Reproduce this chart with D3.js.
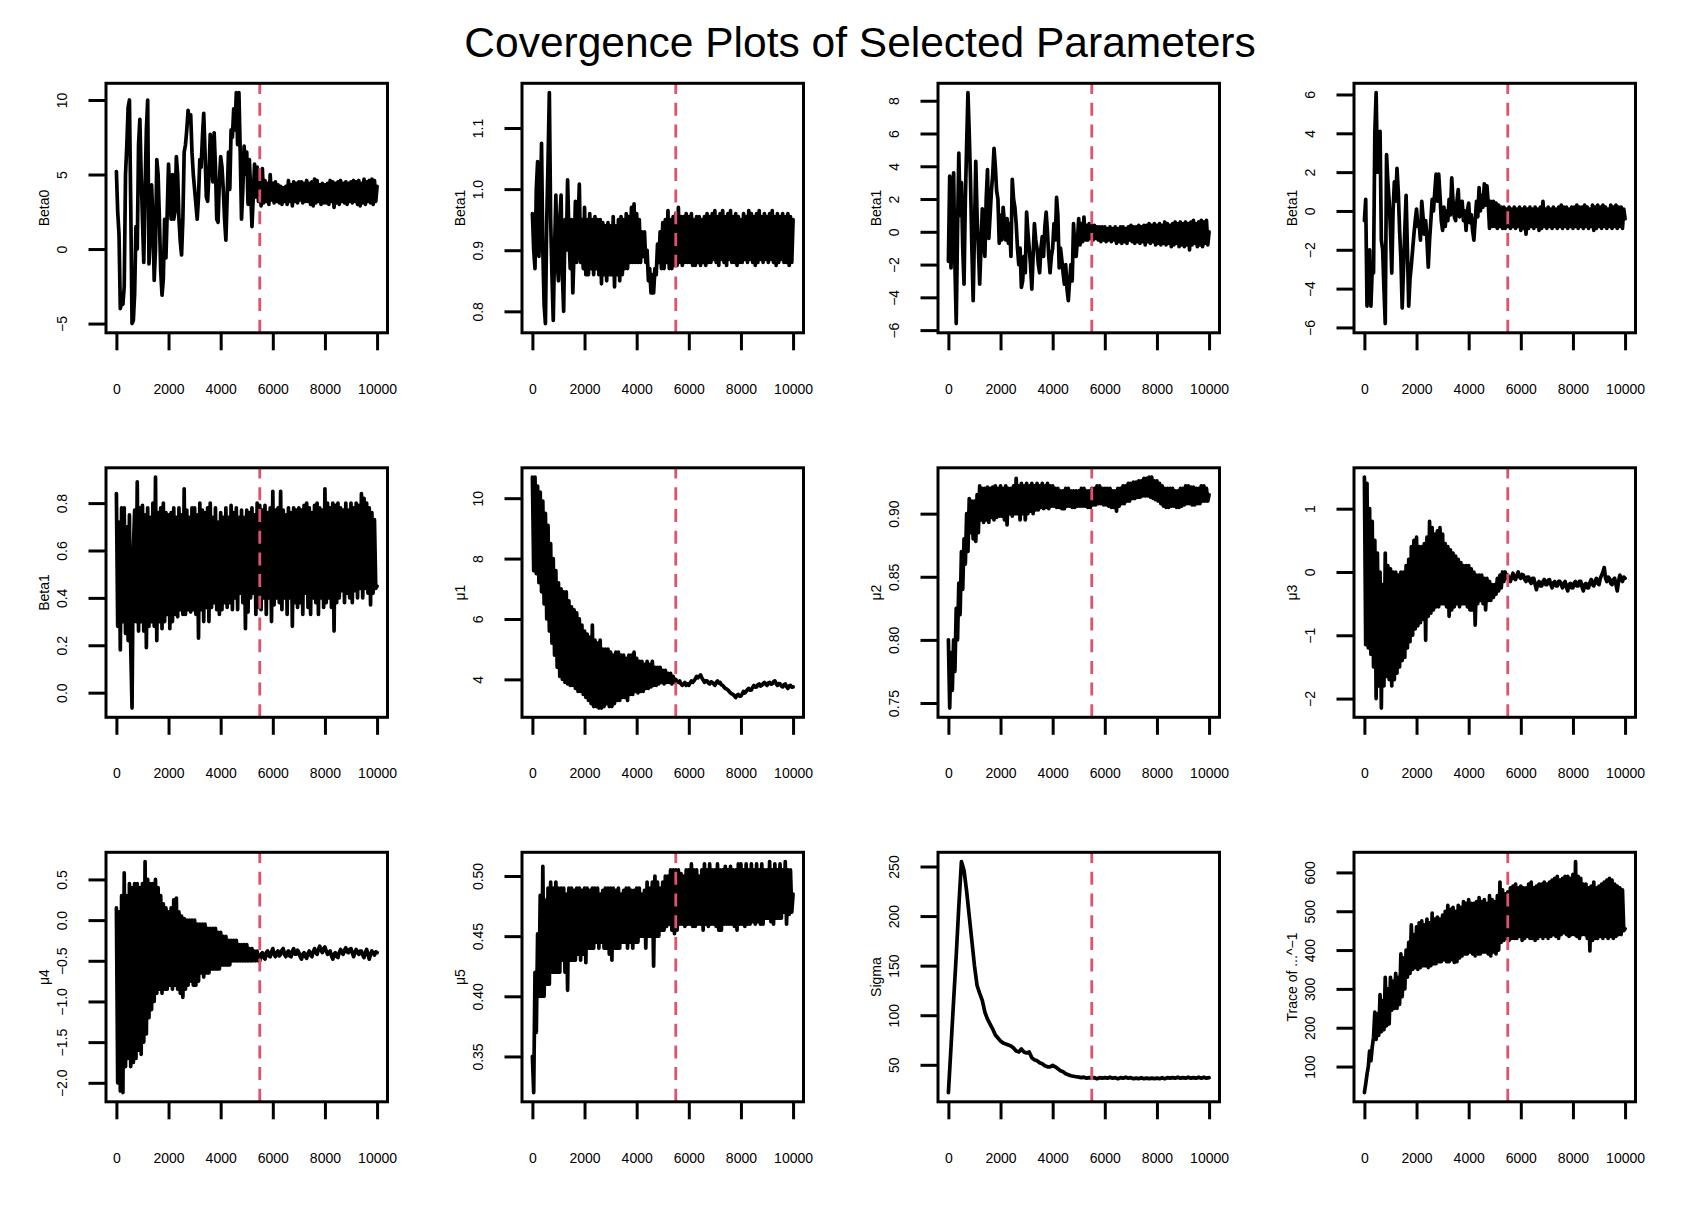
<!DOCTYPE html>
<html>
<head>
<meta charset="utf-8">
<script src="https://cdn.jsdelivr.net/npm/d3@7"></script>
<style>
  body { margin: 0; background: #fff; }
  text { font-family: "Liberation Sans", Arial, Helvetica, sans-serif; fill: #000; }
</style>
</head>
<body>
<svg id="chart" width="1694" height="1212"></svg>
<script>
// values, one every 50 iterations (0 ... 10000)
// (sigma is smooth, so it is read every 100)
var beta0 = [5.2,2.5,1.0,-4.0,-3.6,-3.7,-2.5,5.0,7.0,9.5, 10.0,3.0,-5.0,-4.8,-3.0,1.5,0.0,7.0,8.7,5.0,
  2.0,-0.9,4.0,8.0,10.0,-1.0,1.0,4.3,2.0,-2.1, 0.0,6.0,5.0,2.0,-1.5,-3.1,-2.0,2.0,-0.6,2.5,
  5.7,3.5,2.0,5.0,2.0,2.5,6.2,5.0,2.0,0.5, -0.4,2.0,6.5,7.0,8.0,9.3,8.5,9.0,6.5,5.0,
  4.0,3.0,2.0,3.5,6.0,5.5,7.5,9.1,6.5,3.5, 3.2,5.0,7.7,6.0,4.5,7.8,5.5,2.0,1.8,4.5,
  6.2,5.5,4.0,2.0,0.6,3.5,6.5,4.0,8.0,7.5, 9.4,8.0,10.5,7.0,10.5,6.5,2.0,4.0,6.9,5.0,
  6.5,3.0,6.0,4.0,1.5,3.5,5.7,3.5,5.5,3.2, 4.8,2.9,5.4,3.1,4.6,3.2,4.4,3.0,5.0,3.3,
  4.4,3.1,4.5,3.2,4.3,3.1,4.2,3.0,4.1,3.2, 4.2,3.0,4.6,3.2,4.3,2.9,4.5,3.2,4.4,3.1,
  4.5,3.3,4.5,3.1,4.4,3.2,4.6,3.2,4.4,3.0, 4.5,2.9,4.7,3.1,4.6,3.2,4.3,3.0,4.4,3.1,
  4.3,3.1,4.4,3.0,4.6,3.2,4.5,2.8,4.4,3.1, 4.5,3.0,4.6,3.2,4.4,3.1,4.5,3.0,4.4,3.2,
  4.5,3.1,4.6,3.2,4.5,3.0,4.6,2.9,4.4,3.1, 4.7,3.0,4.5,3.2,4.6,3.1,4.7,3.0,4.6,3.2,
  4.2];
var beta1a = [0.96,0.9,0.87,1.0,1.045,0.89,0.95,1.075,0.9,0.81, 0.78,0.95,1.045,1.158,0.95,0.86,0.785,0.9,0.99,0.88,
  0.85,0.95,0.99,0.86,0.80,0.95,0.9,1.015,0.93,0.87, 0.95,0.83,0.9,0.98,0.88,0.94,1.008,0.88,0.95,0.87,
  0.97,0.86,0.95,0.86,0.96,0.87,0.95,0.86,0.955,0.87, 0.95,0.86,0.95,0.845,0.945,0.86,0.94,0.85,0.945,0.86,
  0.94,0.86,0.955,0.84,0.94,0.86,0.95,0.85,0.955,0.86, 0.95,0.87,0.96,0.87,0.955,0.88,0.97,0.88,0.976,0.88,
  0.96,0.88,0.95,0.88,0.93,0.89,0.93,0.88,0.9,0.85, 0.87,0.83,0.86,0.83,0.87,0.86,0.91,0.88,0.93,0.87,
  0.945,0.87,0.95,0.88,0.965,0.87,0.95,0.87,0.955,0.875, 0.96,0.875,0.97,0.88,0.955,0.875,0.955,0.88,0.96,0.88,
  0.955,0.88,0.96,0.875,0.95,0.875,0.955,0.88,0.955,0.875, 0.95,0.88,0.955,0.875,0.96,0.88,0.955,0.88,0.96,0.885,
  0.965,0.88,0.955,0.875,0.96,0.885,0.965,0.88,0.955,0.875, 0.96,0.885,0.965,0.88,0.955,0.88,0.96,0.875,0.955,0.88,
  0.95,0.88,0.96,0.885,0.955,0.88,0.965,0.885,0.96,0.88, 0.955,0.875,0.96,0.88,0.965,0.885,0.955,0.88,0.96,0.885,
  0.955,0.88,0.96,0.885,0.965,0.88,0.955,0.875,0.96,0.88, 0.955,0.885,0.96,0.88,0.955,0.88,0.96,0.875,0.955,0.88,
  0.95];
var beta1b = [-1.8,3.4,-2.2,1.0,3.6,-2.0,-5.6,0.0,4.8,1.0, 3.0,-1.0,-3.2,2.0,5.3,8.5,6.0,3.0,-1.0,-4.2,
  0.0,4.3,1.0,-1.0,-3.2,-1.0,1.4,-0.5,-1.5,2.0, 3.8,-0.4,1.0,2.5,3.5,5.1,4.0,2.5,2.0,-0.7,
  1.0,-0.5,1.5,0.5,-0.5,0.8,-0.7,0.5,-1.5,3.2, 2.0,1.5,0.5,-1.0,-2.0,-1.0,-3.4,-3.0,-1.5,-2.5,
  1.2,0.0,-1.0,-2.0,-3.5,-1.5,0.5,-0.5,-1.0,-2.0, -2.5,-1.0,-0.3,-1.5,0.3,1.2,0.0,-1.5,-2.5,-1.5,
  -1.0,0.5,-0.5,2.1,1.0,-2.2,-1.0,-1.7,-2.5,-3.2, -2.0,-3.5,-4.2,-3.0,-2.0,-3.0,0.5,-1.0,-1.5,-0.5,
  0.8,-0.8,0.5,-0.6,0.9,-0.5,0.4,-0.5,0.5,-0.4, 0.4,-0.5,0.4,-0.4,0.3,-0.5,0.3,-0.6,0.3,-0.5,
  0.3,-0.6,0.2,-0.5,0.3,-0.6,0.2,-0.5,0.3,-0.7, 0.2,-0.6,0.3,-0.7,0.3,-0.6,0.2,-0.7,0.3,-0.5,
  0.4,-0.6,0.3,-0.7,0.3,-0.6,0.4,-0.7,0.3,-0.6, 0.4,-0.8,0.4,-0.6,0.5,-0.7,0.4,-0.6,0.5,-0.8,
  0.4,-0.7,0.5,-0.8,0.4,-0.7,0.6,-0.8,0.5,-0.7, 0.4,-0.9,0.5,-0.8,0.6,-0.7,0.5,-0.9,0.6,-0.8,
  0.5,-0.9,0.6,-0.8,0.5,-1.1,0.6,-0.8,0.7,-0.7, 0.5,-0.9,0.6,-0.8,0.7,-0.9,0.6,-0.7,0.7,-0.8,
  0.0];
var beta1c = [-0.5,0.6,-4.9,-3.0,-2.0,-4.9,-3.0,-3.2,4.0,6.1, 2.0,3.5,4.1,-1.5,-2.0,-4.0,-5.8,2.9,1.5,0.5,
  -1.0,-3.2,0.0,1.5,0.5,2.2,1.0,-1.0,-2.5,-5.0, -3.0,-1.0,0.8,-2.0,-4.9,-3.5,-2.8,-2.0,-1.2,-0.5,
  0.1,-0.8,-0.6,-1.5,0.5,-0.3,-1.2,-0.5,-1.5,-2.9, -1.5,-0.5,0.6,0.0,1.0,1.9,0.5,1.9,0.8,-0.5,
  -1.0,0.2,-0.8,0.0,-0.5,0.6,-0.2,1.7,0.5,-0.3, -0.5,0.5,1.1,-0.3,0.2,0.5,-0.5,0.0,-1.0,0.0,
  0.4,-0.6,-0.2,-1.0,-1.5,-0.5,0.5,-0.3,1.2,0.0, 0.8,0.2,1.4,0.3,1.3,0.4,-0.9,0.5,-0.8,0.5,
  -0.8,0.4,-0.9,0.3,-0.8,0.2,-0.9,0.2,-0.9,0.1, -0.8,0.2,-0.9,0.1,-0.8,0.2,-0.9,0.1,-0.8,0.2,
  -1.0,0.1,-0.9,0.2,-1.2,0.1,-0.9,0.2,-0.8,0.1, -0.9,0.2,-0.8,0.1,-1.0,0.2,-0.9,0.5,-0.8,0.1,
  -0.9,0.2,-0.8,0.1,-0.9,0.2,-0.8,0.1,-0.9,0.2, -0.8,0.3,-0.9,0.2,-0.8,0.2,-0.9,0.1,-0.8,0.2,
  -0.9,0.2,-0.8,0.3,-0.9,0.2,-0.8,0.2,-0.9,0.3, -0.8,0.2,-0.9,0.1,-0.8,0.3,-1.0,0.2,-0.9,0.3,
  -0.8,0.2,-0.9,0.3,-0.8,0.2,-0.9,0.1,-0.8,0.3, -0.9,0.2,-0.8,0.3,-0.9,0.2,-0.8,0.2,-0.9,0.1,
  -0.4];
var beta1d = [0.84,0.28,0.72,0.18,0.78,0.3,0.78,0.25,0.7,0.22, 0.75,0.19,-0.065,0.6,0.77,0.3,0.89,0.26,0.78,0.3,
  0.79,0.26,0.75,0.19,0.78,0.28,0.74,0.3,0.8,0.28, 0.91,0.22,0.76,0.3,0.78,0.27,0.8,0.3,0.76,0.33,
  0.75,0.27,0.76,0.3,0.78,0.33,0.74,0.32,0.78,0.35, 0.75,0.33,0.86,0.33,0.77,0.35,0.74,0.34,0.78,0.35,
  0.78,0.33,0.75,0.23,0.8,0.35,0.77,0.3,0.76,0.36, 0.78,0.3,0.8,0.36,0.74,0.38,0.78,0.35,0.72,0.33,
  0.76,0.35,0.74,0.38,0.78,0.36,0.74,0.38,0.79,0.35, 0.76,0.4,0.78,0.35,0.74,0.42,0.77,0.38,0.74,0.27,
  0.77,0.34,0.76,0.4,0.78,0.42,0.75,0.33,0.8,0.36, 0.79,0.35,0.77,0.4,0.79,0.33,0.76,0.4,0.78,0.3,
  0.85,0.37,0.77,0.4,0.78,0.38,0.85,0.35,0.77,0.4, 0.75,0.33,0.78,0.4,0.76,0.28,0.78,0.38,0.77,0.36,
  0.78,0.38,0.77,0.33,0.79,0.42,0.8,0.36,0.78,0.33, 0.76,0.4,0.79,0.38,0.8,0.33,0.78,0.4,0.77,0.36,
  0.86,0.38,0.8,0.4,0.78,0.36,0.8,0.26,0.79,0.38, 0.8,0.4,0.78,0.43,0.77,0.38,0.8,0.42,0.77,0.4,
  0.8,0.38,0.78,0.43,0.8,0.4,0.79,0.44,0.84,0.4, 0.82,0.44,0.8,0.42,0.78,0.37,0.76,0.42,0.73,0.44,
  0.45];
var mu1 = [10.7,7.6,10.7,7.5,10.4,7.2,10.2,6.9,9.9,6.5, 9.5,6.0,9.1,5.6,8.5,5.2,8.0,4.8,7.6,4.4,
  7.2,4.1,7.0,4.0,6.9,3.9,6.9,3.85,6.6,3.8, 6.4,3.8,6.3,3.7,6.2,3.6,6.0,3.6,5.8,3.5,
  5.6,3.4,5.5,3.3,5.4,3.2,5.8,3.1,5.3,3.1, 5.2,3.05,5.3,3.05,5.0,3.1,5.0,3.2,5.0,3.1,
  4.9,3.1,4.8,3.2,4.9,3.3,4.9,3.3,4.8,3.4, 4.8,3.4,4.7,3.3,4.8,3.5,4.8,3.5,4.9,3.6,
  4.7,3.55,4.6,3.6,4.6,3.6,4.5,3.7,4.6,3.7, 4.5,3.75,4.6,3.8,4.4,3.8,4.4,3.85,4.4,3.9,
  4.3,3.85,4.3,3.9,4.2,3.9,4.2,3.85,4.1,3.9, 4.0,3.92,3.9,3.95,3.85,3.8,3.85,3.9,3.8,3.85,
  3.8,3.88,3.95,3.9,3.95,4.02,4.1,4.05,4.1,4.15, 4.05,3.98,3.9,3.95,3.95,3.88,3.85,3.92,3.9,3.85,
  3.8,3.9,3.95,3.88,3.9,3.82,3.8,3.75,3.7,3.68, 3.65,3.6,3.55,3.52,3.5,3.45,3.4,3.48,3.5,3.44,
  3.45,3.52,3.6,3.55,3.6,3.66,3.7,3.64,3.65,3.74, 3.8,3.74,3.75,3.82,3.85,3.78,3.8,3.86,3.9,3.84,
  3.8,3.88,3.9,3.84,3.85,3.92,3.95,3.86,3.8,3.86, 3.85,3.78,3.75,3.82,3.85,3.76,3.7,3.78,3.8,3.74,
  3.75];
var mu2 = [0.80,0.746,0.79,0.76,0.80,0.775,0.825,0.80,0.845,0.82, 0.87,0.84,0.88,0.86,0.90,0.87,0.912,0.885,0.91,0.88,
  0.91,0.878,0.915,0.885,0.922,0.895,0.92,0.893,0.92,0.895, 0.921,0.893,0.92,0.897,0.921,0.895,0.922,0.897,0.92,0.898,
  0.922,0.898,0.92,0.895,0.922,0.891,0.92,0.9,0.92,0.898, 0.922,0.9,0.928,0.9,0.922,0.895,0.924,0.9,0.922,0.895,
  0.924,0.9,0.922,0.902,0.924,0.9,0.922,0.903,0.924,0.903, 0.922,0.905,0.924,0.904,0.922,0.905,0.924,0.904,0.922,0.906,
  0.922,0.906,0.92,0.905,0.92,0.905,0.918,0.904,0.918,0.904, 0.92,0.906,0.92,0.906,0.918,0.905,0.918,0.905,0.918,0.906,
  0.918,0.906,0.92,0.906,0.92,0.906,0.918,0.905,0.918,0.905, 0.92,0.907,0.92,0.907,0.922,0.908,0.922,0.908,0.92,0.907,
  0.92,0.907,0.92,0.906,0.92,0.905,0.918,0.905,0.918,0.902, 0.92,0.906,0.92,0.908,0.922,0.908,0.922,0.91,0.924,0.91,
  0.924,0.912,0.925,0.912,0.925,0.913,0.926,0.913,0.926,0.914, 0.928,0.914,0.928,0.914,0.929,0.913,0.929,0.912,0.926,0.911,
  0.926,0.91,0.924,0.908,0.922,0.906,0.92,0.905,0.92,0.905, 0.92,0.906,0.92,0.906,0.918,0.905,0.918,0.905,0.92,0.906,
  0.92,0.907,0.922,0.908,0.922,0.908,0.921,0.907,0.921,0.907, 0.92,0.908,0.92,0.908,0.922,0.91,0.922,0.91,0.92,0.91,
  0.915];
var mu3 = [1.5,-1.15,1.4,-1.2,1.0,-1.3,0.8,-1.5,0.5,-2.0, 0.3,-1.8,0.0,-2.15,-0.2,-1.8,0.3,-1.65,0.1,-1.7,
  0.05,-1.8,0.0,-1.7,0.0,-1.6,-0.05,-1.5,0.0,-1.4, 0.0,-1.35,0.1,-1.2,0.2,-1.1,0.4,-1.0,0.5,-0.9,
  0.55,-0.85,0.4,-0.8,0.4,-0.75,0.45,-1.08,0.55,-0.7, 0.8,-0.65,0.7,-0.6,0.6,-0.55,0.65,-0.55,0.7,-0.5,
  0.6,-0.5,0.45,-0.55,0.4,-0.7,0.35,-0.6,0.3,-0.55, 0.25,-0.5,0.2,-0.55,0.15,-0.5,0.1,-0.5,0.1,-0.55,
  0.1,-0.6,0.05,-0.6,0.0,-0.84,-0.05,-0.5,-0.05,-0.45, -0.05,-0.5,-0.1,-0.6,-0.1,-0.45,-0.15,-0.45,-0.2,-0.4,
  -0.2,-0.35,-0.1,-0.3,-0.05,-0.25,0.0,-0.15,0.0,-0.1, -0.05,-0.12,-0.15,-0.08,-0.02,-0.1,-0.12,-0.05,0.0,-0.08,
  -0.1,-0.04,-0.05,-0.12,-0.15,-0.08,-0.08,-0.15,-0.18,-0.1, -0.1,-0.2,-0.28,-0.18,-0.15,-0.22,-0.22,-0.15,-0.12,-0.2,
  -0.2,-0.13,-0.12,-0.2,-0.25,-0.17,-0.15,-0.22,-0.22,-0.15, -0.15,-0.2,-0.25,-0.18,-0.15,-0.24,-0.3,-0.2,-0.18,-0.25,
  -0.25,-0.17,-0.15,-0.22,-0.22,-0.15,-0.15,-0.24,-0.3,-0.2, -0.18,-0.25,-0.25,-0.17,-0.12,-0.2,-0.22,-0.14,-0.1,-0.18,
  -0.2,-0.1,-0.05,0.0,0.07,-0.1,-0.15,-0.08,-0.1,-0.18, -0.2,-0.12,-0.1,-0.2,-0.3,-0.15,-0.05,-0.12,-0.15,-0.08,
  -0.1];
var mu4 = [0.15,-2.0,0.1,-2.1,0.3,-2.12,0.58,-1.8,0.3,-1.7, 0.45,-1.8,0.4,-1.75,0.45,-1.7,0.45,-1.6,0.4,-1.65,
  0.45,-1.5,0.72,-1.4,0.5,-1.2,0.45,-1.1,0.45,-1.0, 0.5,-0.9,0.4,-0.85,0.3,-0.9,0.2,-0.85,0.15,-0.85,
  0.1,-0.8,0.15,-0.85,0.25,-0.8,0.27,-0.85,0.1,-0.9, 0.05,-0.95,0.02,-0.85,0.0,-0.8,0.0,-0.75,0.0,-0.8,
  0.0,-0.8,-0.05,-0.75,-0.05,-0.65,-0.05,-0.7,-0.05,-0.65, -0.1,-0.65,-0.1,-0.6,-0.1,-0.6,-0.1,-0.6,-0.15,-0.6,
  -0.15,-0.55,-0.2,-0.55,-0.2,-0.55,-0.25,-0.55,-0.25,-0.5, -0.25,-0.5,-0.25,-0.5,-0.3,-0.5,-0.3,-0.5,-0.3,-0.5,
  -0.3,-0.5,-0.35,-0.5,-0.35,-0.5,-0.38,-0.5,-0.38,-0.5, -0.5,-0.42,-0.4,-0.46,-0.48,-0.4,-0.38,-0.44,-0.45,-0.39,
  -0.35,-0.42,-0.45,-0.4,-0.38,-0.44,-0.42,-0.37,-0.35,-0.42, -0.45,-0.4,-0.38,-0.44,-0.45,-0.38,-0.35,-0.42,-0.42,-0.37,
  -0.4,-0.45,-0.48,-0.42,-0.4,-0.45,-0.47,-0.41,-0.38,-0.43, -0.45,-0.39,-0.35,-0.4,-0.42,-0.36,-0.32,-0.37,-0.4,-0.35,
  -0.33,-0.38,-0.42,-0.4,-0.38,-0.44,-0.48,-0.42,-0.4,-0.45, -0.46,-0.4,-0.36,-0.4,-0.42,-0.37,-0.34,-0.39,-0.4,-0.36,
  -0.35,-0.4,-0.45,-0.4,-0.36,-0.4,-0.42,-0.38,-0.38,-0.43, -0.46,-0.4,-0.36,-0.42,-0.48,-0.42,-0.38,-0.41,-0.43,-0.39,
  -0.4];
var mu5 = [0.35,0.32,0.42,0.37,0.452,0.40,0.484,0.40,0.508,0.40, 0.48,0.41,0.49,0.41,0.495,0.42,0.49,0.42,0.495,0.42,
  0.49,0.42,0.49,0.43,0.49,0.42,0.485,0.405,0.49,0.43, 0.49,0.43,0.488,0.43,0.49,0.435,0.49,0.43,0.488,0.435,
  0.49,0.428,0.49,0.44,0.488,0.44,0.49,0.44,0.49,0.445, 0.49,0.44,0.485,0.445,0.488,0.44,0.49,0.44,0.49,0.435,
  0.49,0.43,0.49,0.44,0.488,0.44,0.49,0.44,0.485,0.445, 0.488,0.445,0.49,0.44,0.49,0.445,0.488,0.44,0.488,0.445,
  0.49,0.445,0.49,0.45,0.485,0.45,0.488,0.44,0.495,0.45, 0.49,0.45,0.495,0.425,0.5,0.45,0.495,0.45,0.49,0.455,
  0.495,0.455,0.5,0.458,0.5,0.46,0.505,0.455,0.505,0.452, 0.505,0.455,0.505,0.46,0.502,0.46,0.5,0.458,0.505,0.46,
  0.505,0.46,0.51,0.458,0.505,0.458,0.505,0.46,0.5,0.46, 0.505,0.455,0.51,0.46,0.505,0.458,0.51,0.46,0.505,0.46,
  0.505,0.458,0.51,0.455,0.505,0.455,0.505,0.46,0.508,0.46, 0.505,0.46,0.508,0.46,0.505,0.458,0.505,0.455,0.51,0.46,
  0.51,0.46,0.505,0.458,0.51,0.46,0.505,0.46,0.51,0.462, 0.505,0.46,0.51,0.462,0.505,0.46,0.51,0.46,0.505,0.465,
  0.505,0.465,0.512,0.462,0.505,0.46,0.51,0.465,0.505,0.465, 0.51,0.465,0.505,0.47,0.512,0.46,0.505,0.468,0.505,0.47,
  0.485];
var sigma = [22,68,115,160,210,255,246,225,200,175,
  150,130,122,115,103,96,91,86,80,77,
  74,72,71,70,69,67,64,63,66,63,
  62,63,57,55,54,52,51,49,48,48,
  49.5,48,46,44,43,41,40,39,38.5,38,
  37.5,37,37.5,36.5,37,36.5,37,36,37,36.5,
  37,36.5,37.5,36.5,37,36,37,36.5,37.5,36.5,
  37,36,36.5,36,37,36,36.5,36,36.5,36,
  36.5,36,37,36,37,36.5,37,36.5,37.5,36.5,
  37,36.5,37.5,36.5,37,36.5,37.5,36.5,37.5,36.5,
  37];
var traceInv = [33,55,80,100,140,115,150,175,240,170, 235,180,285,190,270,195,330,205,300,210,
  330,245,320,250,340,250,330,260,390,280, 380,300,400,330,420,340,465,350,440,355,
  460,350,470,355,475,360,465,360,480,355, 470,360,495,365,480,365,485,370,480,370,
  490,375,500,370,515,370,505,375,510,368, 500,370,515,380,510,385,525,390,520,390,
  530,395,520,390,520,385,525,390,535,390, 525,395,530,395,520,390,540,385,530,395,
  525,390,540,400,575,420,555,425,545,430, 550,425,560,430,565,430,570,430,560,435,
  565,425,560,430,560,435,570,430,575,430, 560,425,565,430,570,435,570,430,575,435,
  570,430,575,435,580,440,585,435,590,430, 580,440,585,445,590,440,590,435,585,440,
  595,440,628,435,590,430,585,440,570,440, 570,430,560,398,565,425,575,430,560,430,
  565,435,570,430,575,435,580,430,585,435, 580,430,570,435,565,440,560,440,555,450,
  455];

var titleText = "Covergence Plots of Selected Parameters";
var yLabels = ["Beta0", "Beta1", "Beta1", "Beta1", "Beta1", "\u03bc1", "\u03bc2", "\u03bc3",
  "\u03bc4", "\u03bc5", "Sigma", "Trace of ...^\u22121"];
var yTicks = [[-5, 0, 5, 10], [0.8, 0.9, 1.0, 1.1], [-6, -4, -2, 0, 2, 4, 6, 8], [-6, -4, -2, 0, 2, 4, 6],
  [0, 0.2, 0.4, 0.6, 0.8], [4, 6, 8, 10], [0.75, 0.8, 0.85, 0.9], [-2, -1, 0, 1],
  [-2, -1.5, -1, -0.5, 0, 0.5], [0.35, 0.4, 0.45, 0.5], [50, 100, 150, 200, 250], [100, 200, 300, 400, 500, 600]];
var yTickDecimals = [0, 1, 0, 0, 1, 0, 2, 0, 1, 2, 0, 0];
var xTicks = [0, 2000, 4000, 6000, 8000, 10000];
var nIter = 10000;
var burnIn = 5500;

var series = [beta0, beta1a, beta1b, beta1c, beta1d, mu1, mu2, mu3, mu4, mu5, sigma, traceInv];

// layout (R par(mfrow = c(3, 4)) look)
var boxLeft0 = 106, colStep = 416, boxW = 281.5;
var boxTop0 = 83.3, rowStep = 384.5, boxH = 249.5;
var tickLen = 17.5;

var svg = d3.select("#chart");

svg.append("text")
  .attr("x", 860)
  .attr("y", 57)
  .attr("text-anchor", "middle")
  .style("font-size", "42.5px")
  .text(titleText);

series.forEach(function(values, k) {
  var left = boxLeft0 + (k % 4) * colStep;
  var top = boxTop0 + Math.floor(k / 4) * rowStep;
  var step = nIter / (values.length - 1);

  // R style 4% padding on both axes
  var xpad = nIter * 0.04;
  var x = d3.scaleLinear().domain([1 - xpad, nIter + xpad]).range([left, left + boxW]);
  var ext = d3.extent(values);
  var ypad = (ext[1] - ext[0]) * 0.04;
  var y = d3.scaleLinear().domain([ext[0] - ypad, ext[1] + ypad]).range([top + boxH, top]);

  var g = svg.append("g");

  g.append("clipPath").attr("id", "clip" + k)
    .append("rect")
    .attr("x", left).attr("y", top).attr("width", boxW).attr("height", boxH);

  var line = d3.line()
    .x(function(d, i) { return x(i * step); })
    .y(function(d) { return y(d); });

  g.append("path")
    .datum(values)
    .attr("clip-path", "url(#clip" + k + ")")
    .attr("d", line)
    .attr("fill", "none")
    .attr("stroke", "#000")
    .attr("stroke-width", 3.7)
    .attr("stroke-linejoin", "round")
    .attr("stroke-linecap", "round");

  // burn-in marker, dashes start at the bottom like abline()
  g.append("line")
    .attr("x1", x(burnIn)).attr("x2", x(burnIn))
    .attr("y1", top + boxH).attr("y2", top)
    .attr("stroke", "#DF536B")
    .attr("stroke-width", 2.8)
    .attr("stroke-dasharray", "13,8.7");

  // box
  g.append("rect")
    .attr("x", left).attr("y", top).attr("width", boxW).attr("height", boxH)
    .attr("fill", "none")
    .attr("stroke", "#000")
    .attr("stroke-width", 3);

  // x axis
  var xa = g.append("g")
    .attr("transform", "translate(0," + (top + boxH) + ")")
    .call(d3.axisBottom(x).tickValues(xTicks).tickSize(tickLen).tickFormat(d3.format("d")));
  xa.select(".domain").remove();
  xa.selectAll(".tick line").attr("stroke", "#000").attr("stroke-width", 3);
  xa.selectAll(".tick text")
    .attr("y", 61).attr("dy", null)
    .style("font-size", "14px")
    .attr("font-family", null);

  // y axis
  var fmt = d3.format("." + yTickDecimals[k] + "f");
  var ya = g.append("g")
    .attr("transform", "translate(" + left + ",0)")
    .call(d3.axisLeft(y).tickValues(yTicks[k]).tickSize(tickLen).tickFormat(fmt));
  ya.select(".domain").remove();
  ya.selectAll(".tick line").attr("stroke", "#000").attr("stroke-width", 3);
  ya.selectAll(".tick text")
    .attr("x", null).attr("dy", null)
    .attr("text-anchor", "middle")
    .attr("transform", "translate(-39.5,0) rotate(-90)")
    .style("font-size", "14px")
    .attr("font-family", null);

  g.append("text")
    .attr("transform", "translate(" + (left - 57) + "," + (top + boxH / 2) + ") rotate(-90)")
    .attr("text-anchor", "middle")
    .style("font-size", "14px")
    .text(yLabels[k]);
});
</script>
</body>
</html>
